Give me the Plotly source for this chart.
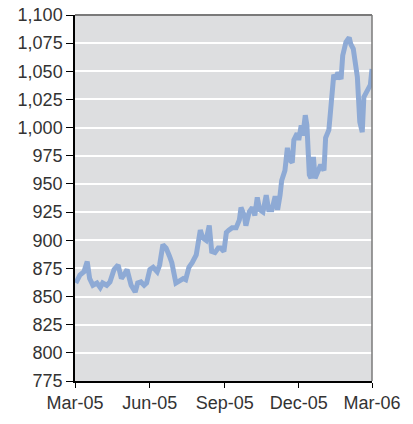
import plotly.graph_objects as go

# Index level
dates = [
    "2005-03-02", "2005-03-07", "2005-03-12", "2005-03-16", "2005-03-19", "2005-03-23",
    "2005-03-28", "2005-04-01", "2005-04-04", "2005-04-09", "2005-04-13", "2005-04-18",
    "2005-04-23", "2005-04-27", "2005-04-30", "2005-05-04", "2005-05-09", "2005-05-14",
    "2005-05-17", "2005-05-21", "2005-05-25", "2005-05-28", "2005-06-01", "2005-06-05",
    "2005-06-10", "2005-06-13", "2005-06-17", "2005-06-21", "2005-06-25", "2005-06-28",
    "2005-07-03", "2005-07-08", "2005-07-12", "2005-07-15", "2005-07-19", "2005-07-23",
    "2005-07-28", "2005-08-02", "2005-08-05", "2005-08-09", "2005-08-13", "2005-08-16",
    "2005-08-20", "2005-08-24", "2005-08-27", "2005-08-31", "2005-09-03", "2005-09-06",
    "2005-09-10", "2005-09-15", "2005-09-19", "2005-09-21", "2005-09-25", "2005-09-27",
    "2005-10-01", "2005-10-05", "2005-10-08", "2005-10-11", "2005-10-14", "2005-10-18",
    "2005-10-22", "2005-10-25", "2005-10-29", "2005-11-02", "2005-11-05", "2005-11-08",
    "2005-11-10", "2005-11-14", "2005-11-17", "2005-11-20", "2005-11-23", "2005-11-25",
    "2005-11-29", "2005-12-01", "2005-12-04", "2005-12-06", "2005-12-09", "2005-12-11",
    "2005-12-14", "2005-12-16", "2005-12-19", "2005-12-21", "2005-12-25", "2005-12-28",
    "2006-01-01", "2006-01-03", "2006-01-07", "2006-01-10", "2006-01-13", "2006-01-16",
    "2006-01-18", "2006-01-22", "2006-01-24", "2006-01-28", "2006-02-01", "2006-02-03",
    "2006-02-06", "2006-02-08", "2006-02-11", "2006-02-14", "2006-02-17", "2006-02-19",
    "2006-02-23", "2006-02-27", "2006-03-01",
]
values = [
    862, 869, 872, 881, 866, 860,
    862, 858, 862, 860, 863, 874,
    878, 866, 869, 874, 860, 854,
    862, 863, 860, 862, 874, 876,
    872, 878, 896, 893, 886, 880,
    862, 865, 866, 865, 876, 880,
    887, 909, 902, 900, 913, 890,
    889, 893, 893, 890, 907, 909,
    911, 911, 918, 929, 922, 913,
    925, 929, 922, 938, 927, 925,
    940, 927, 927, 939, 927, 940,
    953, 962, 982, 971, 969, 989,
    995, 989, 1002, 993, 1011, 1002,
    958, 955, 974, 955, 962, 967,
    962, 991, 998, 1020, 1047, 1043,
    1049, 1043, 1064, 1076, 1080, 1074,
    1070, 1060, 1045, 1005, 996, 1027,
    1033, 1038, 1052,
]

tick_dates = ["2005-03-01", "2005-06-01", "2005-09-01", "2005-12-01", "2006-03-01"]
tick_labels = ["Mar-05", "Jun-05", "Sep-05", "Dec-05", "Mar-06"]
y_ticks = list(range(775, 1101, 25))

fig = go.Figure(go.Scatter(
    x=dates,
    y=values,
    mode="lines",
    line=dict(color="#8eaad5", width=5),
    showlegend=False,
))

fig.update_xaxes(
    range=["2005-03-01", "2006-03-01"],
    tickvals=tick_dates,
    ticktext=tick_labels,
    ticks="outside",
    ticklen=5,
    tickcolor="#000",
    showgrid=False,
    showline=True,
    linecolor="#000",
    linewidth=1.5,
    zeroline=False,
    automargin=False,
)
fig.update_yaxes(
    range=[775, 1100],
    tickvals=y_ticks,
    tickformat=",d",
    ticks="outside",
    ticklen=7,
    tickcolor="#000",
    showgrid=True,
    gridcolor="#ffffff",
    gridwidth=2,
    showline=True,
    linecolor="#000",
    linewidth=1.5,
    zeroline=False,
    automargin=False,
)

# grey frame on top and right
fig.add_shape(type="line", xref="paper", yref="paper", x0=0, x1=1, y0=1, y1=1,
              line=dict(color="#7a7a7a", width=2))
fig.add_shape(type="line", xref="paper", yref="paper", x0=1, x1=1, y0=0, y1=1,
              line=dict(color="#7a7a7a", width=1.5))

fig.update_layout(
    width=413,
    height=424,
    margin=dict(l=75, r=41, t=15, b=43),
    plot_bgcolor="#dddee0",
    paper_bgcolor="#ffffff",
    font=dict(family="Liberation Sans, Arial, sans-serif", size=18, color="#333333"),
)

# drop the default page margin so the figure sits at the window's corner
fig.write_html(
    "out.html",
    config={"displayModeBar": False},
    post_script="document.body.style.margin = '0';",
)
